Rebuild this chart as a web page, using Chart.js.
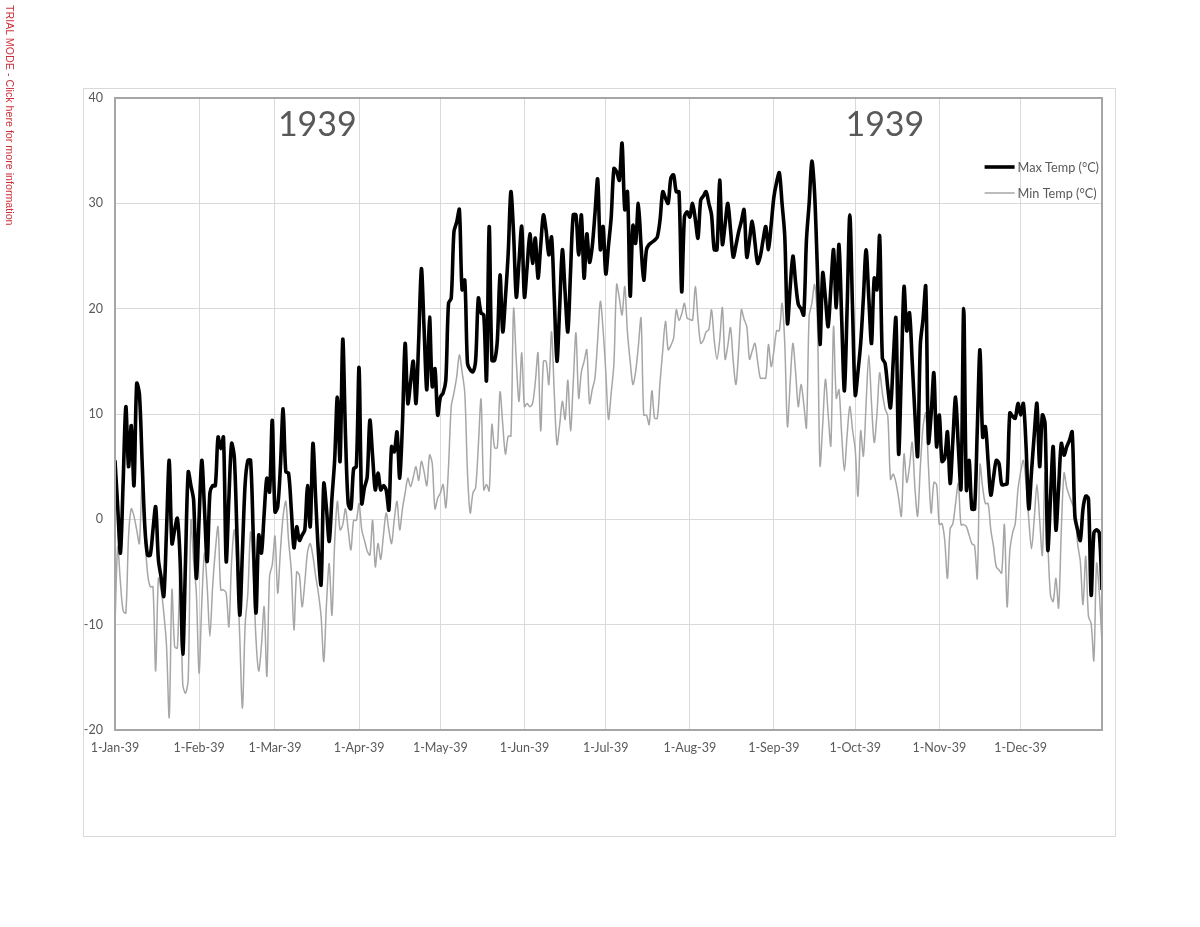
<!DOCTYPE html>
<html>
<head>
<meta charset="utf-8">
<title>1939 daily temperatures</title>
<script src="https://cdn.jsdelivr.net/npm/chart.js@4.4.0/dist/chart.umd.min.js"></script>
<style>
  html, body { margin: 0; padding: 0; background: #fff; }
  #wrap { position: relative; width: 1200px; height: 927px; }
  #trial {
    position: absolute; left: 4px; top: 5px;
    writing-mode: vertical-rl;
    font: 10.7px "Liberation Sans", Arial, sans-serif;
    color: #cc2f3a;
  }
</style>
</head>
<body>
<div id="wrap">
  <canvas id="chart" width="1200" height="927"></canvas>
  <div id="trial">TRIAL MODE - Click here for more information</div>
</div>
<script>
// day offsets of the month ticks and their labels
const monthStarts = [0, 31, 59, 90, 120, 151, 181, 212, 243, 273, 304, 334];
const monthLabels = ["1-Jan-39", "1-Feb-39", "1-Mar-39", "1-Apr-39", "1-May-39", "1-Jun-39",
  "1-Jul-39", "1-Aug-39", "1-Sep-39", "1-Oct-39", "1-Nov-39", "1-Dec-39"];
const yearText = "1939";

// daily max, 1 Jan - 31 Dec 1939
const maxTemp = [
  5.6, 1.2, -3.2, 3.5, 10.7, 5, 8.9, 3.2, 12.9, 11.9,
  5.5, -0.7, -3.4, -3.4, -1, 1.2, -3.8, -5.5, -7.3, -1,
  5.6, -2.3, -1, 0.1, -3.8, -12.8, -4, 4.5, 3.2, 1.8,
  -5.6, 0, 5.6, 1, -4, 2.5, 3.2, 3.2, 7.8, 6.7,
  7.8, -4, 2, 7.2, 5.9, -1.6, -9.1, -3, 3.4, 5.6,
  5.6, -1.6, -8.9, -1.5, -3.2, 0.5, 3.9, 2.6, 9.4, 0.7,
  1.2, 5, 10.5, 4.5, 4.4, 1, -2.7, -0.7, -2, -1.5,
  -1, 3.2, -0.7, 7.2, 2, -3.1, -6.2, 3.4, 1, -2.1,
  2, 5.6, 11.6, 5.5, 17.1, 8, 1.5, 1.0, 4.8, 5,
  14.4, 1.5, 3, 4, 9.4, 6, 2.8, 4.4, 2.8, 3.2,
  2.8, 0.9, 6.9, 6.4, 8.3, 3.9, 9, 16.7, 11, 13,
  15, 11, 17, 23.8, 18, 12.3, 19.2, 12.6, 14.3, 9.9,
  11.6, 12, 13.2, 20.5, 21, 27.3, 28.2, 29.4, 21.8, 22.7,
  14.8, 14.2, 14, 15.1, 21, 19.6, 19.4, 13.2, 27.8, 15.1,
  15.1, 17, 23.2, 17.8, 21.1, 25.2, 31.1, 27.1, 21.1, 24.5,
  27.8, 21.1, 24, 27.1, 24.3, 26.7, 22.9, 26, 28.9, 27.4,
  25.1, 26.8, 21, 15, 20.2, 25.6, 21.5, 17.8, 23.5, 28.9,
  28.9, 25.1, 28.9, 22.9, 27.1, 24.4, 25.9, 29, 32.3, 25.6,
  27.8, 23.3, 26, 28.7, 33.3, 33, 32.2, 35.7, 29.4, 31.1,
  21.2, 27.9, 26.2, 30, 26, 22.7, 25.6, 26.1, 26.3, 26.5,
  26.8, 28.4, 31.1, 30.5, 30, 32.4, 32.7, 31.1, 31.1, 21.6,
  28.7, 29.2, 28.7, 30, 28.5, 26.7, 30.3, 30.7, 31.1, 30,
  28.9, 25.6, 25.6, 32.2, 26.1, 28, 30, 27.5, 24.9, 26,
  27.3, 28.3, 29.4, 24.9, 26.5, 28.3, 26.3, 24.3, 25, 26.5,
  27.8, 25.6, 28, 30.6, 32, 32.9, 30, 26.9, 18.6, 22,
  25, 22.5, 20.4, 20, 19.4, 26.5, 30, 34, 31, 24,
  16.6, 23.4, 21, 18.3, 22, 25.6, 20.1, 26.1, 19, 12.2,
  20, 28.9, 20, 11.8, 14, 16.7, 21, 25.6, 21, 16.7,
  22.9, 21.8, 26.9, 15.3, 14.8, 12.5, 10.6, 15, 19.1, 6.2,
  14, 22.1, 17.9, 19.6, 15, 10, 6, 16.6, 19, 22.1,
  7.3, 10, 13.9, 6.9, 9.9, 5.5, 5.8, 8.3, 3.4, 7.5,
  11.6, 7, 2.9, 20, 2.8, 5.6, 1.0, 1.0, 8.5, 16.1,
  7.8, 8.8, 5.5, 2.3, 4, 5.6, 5.3, 3.3, 3.3, 3.4,
  10.1, 9.8, 9.6, 11, 9.9, 11, 6.9, 1.0, 4.5, 8,
  11, 5, 9.9, 9.1, -2.9, 2, 6.9, -1, 3, 7.2,
  6.1, 6.9, 7.5, 8.3, 0.3, -1, -2, 1, 2.2, 2,
  -7.2, -1.3, -1, -1.3, -6.7
];

// daily min
const minTemp = [
  -10, -2.6, -6, -8.7, -8.9, -1.6, 1.0, 0.3, -1, -2.3,
  3.7, -1.5, -5.1, -6.4, -6.4, -14.4, -5.6, -6.7, -8.9, -12,
  -18.8, -6.7, -12.1, -12.2, -5.1, -15.7, -16.5, -15.2, -0.1, -4,
  -7, -14.6, -8, -3.2, -6.4, -11.1, -6.4, -3, -0.7, -6.7,
  -6.7, -7, -10.2, -4, -1, -4.5, -11.1, -17.9, -10, -7,
  -1.2, -5.1, -11.4, -14.4, -12, -8.3, -14.9, -5.4, -4.3, -1.6,
  -7, -3, 0.3, 1.7, -2, -4.8, -10.5, -5, -5.3, -8.3,
  -6, -3.1, -2.3, -3.5, -5.4, -7, -9.2, -13.5, -8, -4.2,
  -9.1, -2.3, 1.7, -1, -0.5, 1.0, -1, -2.9, -0.1, -0.1,
  1.5, -1, -2, -3, -3.4, -0.1, -4.5, -2.3, -3.8, -1.5,
  0.6, -1, -2.3, 0, 1.7, -1, 1, 2.5, 3.9, 3.1,
  4.0, 5, 3.7, 5.5, 4.5, 3.2, 6.1, 5.3, 1.0, 2,
  2.5, 3.3, 1.1, 5, 10.7, 12, 13.5, 15.6, 14, 12,
  4.4, 0.6, 2.5, 3.0, 7, 11.4, 2.8, 3.3, 2.7, 9,
  6.8, 6.8, 12.1, 9, 6.2, 7.9, 7.9, 20, 15, 11.2,
  15.8, 10.7, 11, 10.7, 11, 13, 15.8, 8.4, 15, 15,
  12.8, 17.8, 12, 7.1, 9, 11.2, 9.5, 13.2, 8.4, 13,
  17.7, 11.5, 14, 15, 16.1, 11, 12.3, 13.4, 17, 20.7,
  18, 14, 9.5, 12, 14.8, 22.3, 21, 19.4, 22.1, 17.7,
  15, 12.8, 14, 16.4, 19.1, 9.9, 9.9, 9, 12.2, 9.6,
  9.6, 13, 16, 18.8, 16.1, 16.5, 17.2, 19.9, 18.9, 19.5,
  20.5, 19.1, 19, 18.9, 22.1, 19, 16.7, 17, 17.8, 18,
  19.9, 17, 15.2, 17, 20.1, 15.2, 16.5, 18.2, 15, 12.8,
  16, 19.9, 19, 18.3, 15.2, 16, 16.7, 15, 13.4, 13.4,
  13.4, 16.6, 14.5, 16, 17.9, 17.9, 20.5, 16.7, 8.8, 13,
  16.7, 14, 10.7, 12.8, 11, 8.7, 19.3, 20.5, 22.3, 19.3,
  5.1, 9, 13.3, 10, 7, 18.3, 11.5, 12.3, 8, 4.6,
  8, 10.7, 8.5, 6.6, 2.2, 8.4, 6, 11, 15.6, 11,
  7.3, 10, 13.9, 12, 10.5, 9.8, 3.8, 4.3, 3.5, 2,
  0.3, 6.2, 3.5, 5, 7.3, 3, 0.3, 5, 8.8, 10.1,
  5, 0.6, 3.5, 3.3, -0.5, -0.4, -2, -5.6, -0.9, -0.4,
  1.5, 3.4, -0.5, -0.5, -0.7, -1.5, -2.3, -2.5, -5.6, 5.2,
  3, 1.5, 1.5, -1, -2.6, -4.5, -4.8, -5.1, -0.5, -8.3,
  -3, -1.3, -0.4, 2.8, 4.5, 5.6, 3.4, 0, -2.8, 0,
  3.3, 0, -3.4, 4.4, -2, -7.2, -7.8, -5.6, -8.4, -1,
  4.4, 3, 2.2, 1.5, 0.9, -2.3, -4, -8.1, -3.5, -9.2,
  -9.9, -13.4, -4.2, -7, -11.8
];

const FONT = "Lato, 'Open Sans', sans-serif";
const TEXT_GREY = "#595959";

// white background, outer frame, plot border, year labels and legend
const decor = {
  id: "decor",
  beforeDraw(chart) {
    const c = chart.ctx;
    c.save();
    c.fillStyle = "#fff";
    c.fillRect(0, 0, chart.width, chart.height);
    c.strokeStyle = "#d9d9d9";
    c.lineWidth = 1;
    c.strokeRect(83.5, 88.5, 1032, 748);
    c.restore();
  },
  afterDatasetsDraw(chart) {
    const c = chart.ctx;
    const a = chart.chartArea;
    c.save();
    c.strokeStyle = "#a6a6a6";
    c.lineWidth = 2;
    c.strokeRect(a.left, a.top, a.right - a.left, a.bottom - a.top);

    c.fillStyle = TEXT_GREY;
    c.font = "34px " + FONT;
    c.textAlign = "center";
    c.textBaseline = "alphabetic";
    const w = a.right - a.left;
    c.fillText(yearText, a.left + w * 0.205, a.top + 38);
    c.fillText(yearText, a.left + w * 0.780, a.top + 38);

    // legend in the top right corner of the plot
    c.font = "12.7px " + FONT;
    c.textAlign = "left";
    c.textBaseline = "middle";
    const sets = chart.data.datasets;
    const tw = Math.max(...sets.map(d => c.measureText(d.label).width));
    const tx = a.right - 3 - tw;
    sets.forEach((d, i) => {
      const y = a.top + 69 + i * 26;
      c.strokeStyle = d.borderColor;
      c.lineWidth = d.borderWidth;
      c.beginPath();
      c.moveTo(tx - 33, y);
      c.lineTo(tx - 3, y);
      c.stroke();
      c.fillStyle = TEXT_GREY;
      c.fillText(d.label, tx, y + 1);
    });
    c.restore();
  }
};

const ctx = document.getElementById("chart").getContext("2d");

new Chart(ctx, {
  type: "line",
  data: {
    datasets: [
      {
        label: "Max Temp (°C)",
        data: maxTemp.map((v, i) => ({ x: i, y: v })),
        borderColor: "#000000",
        borderWidth: 3.6,
        pointRadius: 0,
        tension: 0.3,
      },
      {
        label: "Min Temp (°C)",
        data: minTemp.map((v, i) => ({ x: i, y: v })),
        borderColor: "#a6a6a6",
        borderWidth: 1.5,
        pointRadius: 0,
        tension: 0.3,
      },
    ],
  },
  options: {
    responsive: false,
    animation: false,
    devicePixelRatio: 1,
    layout: { padding: { left: 83, top: 98, right: 98, bottom: 157 } },
    plugins: {
      legend: { display: false },
      tooltip: { enabled: false },
    },
    scales: {
      x: {
        type: "linear",
        min: 0,
        max: 364,
        afterBuildTicks: (s) => {
          s.ticks = monthStarts.map((v) => ({ value: v }));
        },
        afterFit: (s) => {
          s.height = 40;
        },
        ticks: {
          autoSkip: false,
          maxRotation: 0,
          padding: 10,
          color: TEXT_GREY,
          font: { family: FONT, size: 12.5 },
          callback: (v) => monthLabels[monthStarts.indexOf(v)],
        },
        grid: { color: "#d9d9d9", drawTicks: false },
        border: { display: false },
      },
      y: {
        min: -20,
        max: 40,
        afterFit: (s) => {
          s.width = 32;
        },
        ticks: {
          stepSize: 10,
          padding: 12,
          color: TEXT_GREY,
          font: { family: FONT, size: 12.5 },
        },
        grid: { color: "#d9d9d9", drawTicks: false },
        border: { display: false },
      },
    },
  },
  plugins: [decor],
});
</script>
</body>
</html>
